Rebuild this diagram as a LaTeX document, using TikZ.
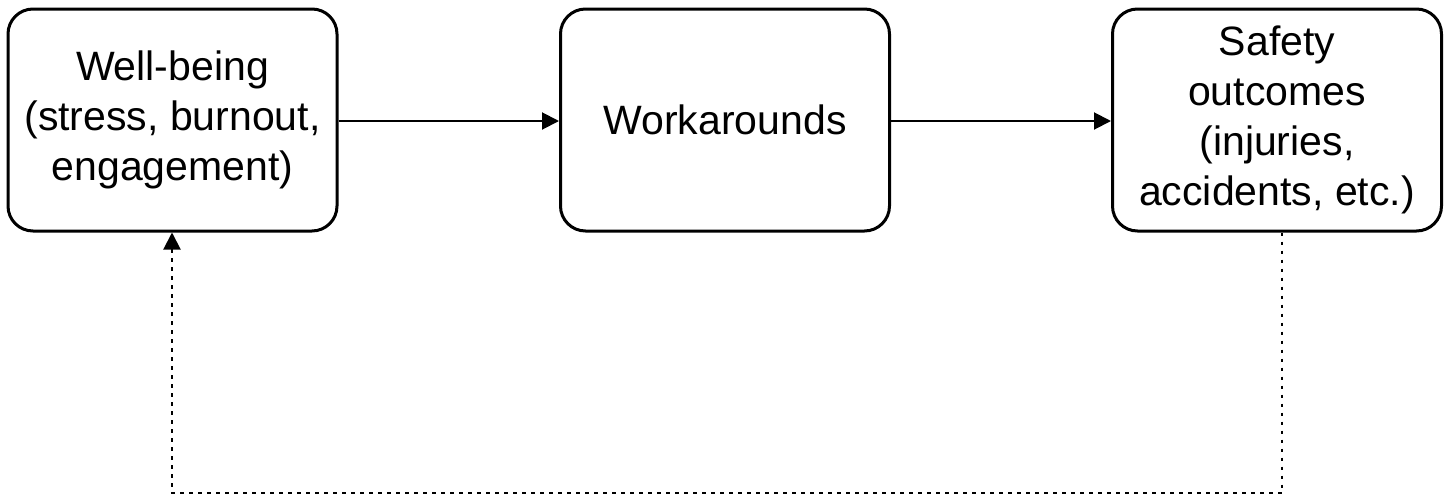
\documentclass[tikz,border=0pt]{standalone}
\usepackage{fontspec}
\setmainfont{Liberation Sans}
\usetikzlibrary{arrows.meta}
\begin{document}
\begin{tikzpicture}[x=0.5pt,y=-0.5pt,
  stagebox/.style={draw=black, line width=1.5pt, rounded corners=12.5pt,
    fill=white, minimum width=164.5pt, minimum height=111pt, inner sep=0pt,
    align=center, font=\fontsize{20.5}{25}\selectfont},
  flow/.style={line width=1pt, -{Triangle[length=8.5pt,width=8.5pt]}},
  feedback/.style={line width=1pt, dash pattern=on 1.6pt off 2.9pt,
    -{Triangle[length=8.5pt,width=8.5pt]}}
]
\useasboundingbox (0,0) rectangle (1448,499);
\node[stagebox] (wb) at (172.5,120) {Well-being\\(stress, burnout,\\engagement)};
\node[stagebox] (wa) at (725,120) {Workarounds};
\node[stagebox] (so) at (1277,120) {Safety\\outcomes\\(injuries,\\accidents, etc.)};
\coordinate (c1) at (1282,493);
\coordinate (c2) at (172,493);
\draw[flow] (wb.east |- 0,121) -- (wa.west |- 0,121);
\draw[flow] (wa.east |- 0,121) -- (so.west |- 0,121);
\draw[feedback] (so.south -| c1) -- (c1) -- (c2) -- (wb.south -| c2);
\end{tikzpicture}
\end{document}
